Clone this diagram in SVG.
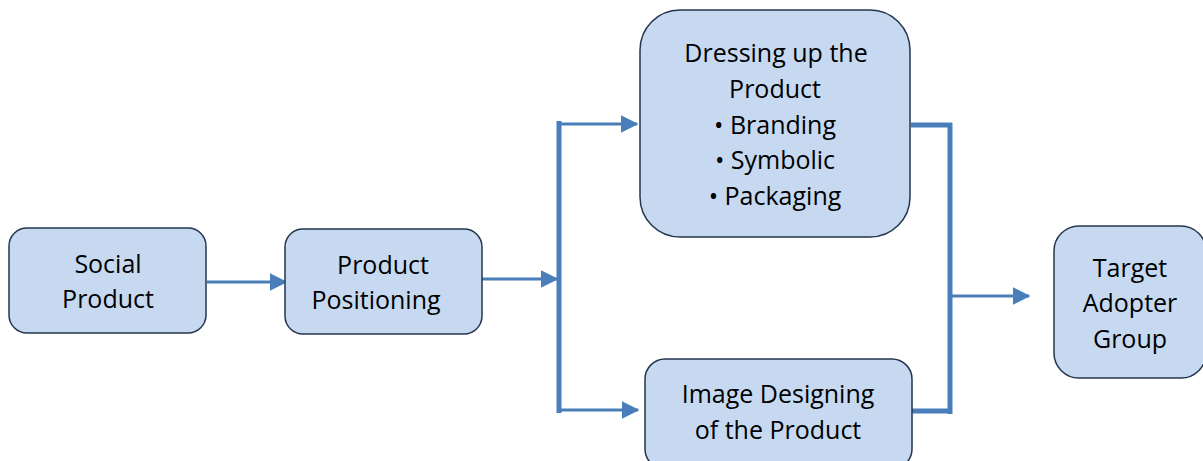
<svg xmlns="http://www.w3.org/2000/svg" width="1203" height="461" viewBox="0 0 1203 461">
<style>
.box{fill:#C6D9F1;stroke:#243550;stroke-width:1.5}
.t{font-family:"Open Sans","Liberation Sans",sans-serif;font-size:25px;fill:#000;text-anchor:middle}
.c{stroke:#4A7EBB;fill:none}
</style>
<defs>
<marker id="ah" markerWidth="6" markerHeight="6" refX="5.5" refY="3" orient="auto" markerUnits="strokeWidth">
<path d="M0,0 L6,3 L0,6 Z" fill="#4A7EBB"/>
</marker>
</defs>
<rect width="1203" height="461" fill="#fff"/>
<g id="connectors">
<line class="c" x1="207" y1="282" x2="286" y2="282" stroke-width="3" marker-end="url(#ah)"/>
<line class="c" x1="482" y1="279" x2="557" y2="279" stroke-width="3" marker-end="url(#ah)"/>
<line class="c" x1="559" y1="121" x2="559" y2="413" stroke-width="5"/>
<line class="c" x1="557" y1="124" x2="637" y2="124" stroke-width="3" marker-end="url(#ah)"/>
<line class="c" x1="557" y1="410" x2="638" y2="410" stroke-width="3" marker-end="url(#ah)"/>
<line class="c" x1="911" y1="125" x2="952" y2="125" stroke-width="5"/>
<line class="c" x1="911" y1="411" x2="952" y2="411" stroke-width="5"/>
<line class="c" x1="950" y1="123" x2="950" y2="414" stroke-width="5"/>
<line class="c" x1="950" y1="296" x2="1029" y2="296" stroke-width="3" marker-end="url(#ah)"/>
</g>
<g id="social-product">
<rect class="box" x="9" y="228" width="197" height="105" rx="18"/>
<text class="t" x="108" y="273">Social</text>
<text class="t" x="108" y="308">Product</text>
</g>
<g id="product-positioning">
<rect class="box" x="285" y="229" width="197" height="105" rx="18"/>
<text class="t" x="383" y="274">Product</text>
<text class="t" x="376" y="309">Positioning</text>
</g>
<g id="dressing-up">
<rect class="box" x="640" y="10" width="270" height="227" rx="40"/>
<text class="t" x="776" y="62">Dressing up the</text>
<text class="t" x="775" y="98">Product</text>
<text class="t" x="775" y="134">• Branding</text>
<text class="t" x="775" y="169">• Symbolic</text>
<text class="t" x="775" y="205">• Packaging</text>
</g>
<g id="image-designing">
<rect class="box" x="645" y="359" width="267" height="110" rx="20"/>
<text class="t" x="778" y="403">Image Designing</text>
<text class="t" x="778" y="439">of the Product</text>
</g>
<g id="target-adopter">
<rect class="box" x="1054" y="226" width="152" height="152" rx="25"/>
<text class="t" x="1130" y="277">Target</text>
<text class="t" x="1130" y="312">Adopter</text>
<text class="t" x="1130" y="348">Group</text>
</g>
</svg>
